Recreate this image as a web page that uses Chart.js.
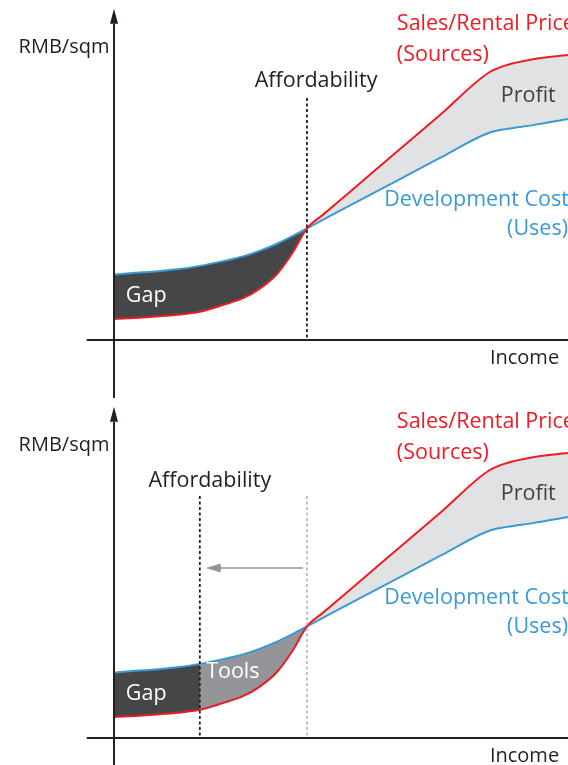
<!DOCTYPE html>
<html>
<head>
<meta charset="utf-8">
<script src="https://cdn.jsdelivr.net/npm/chart.js@4"></script>
<style>
    body { margin: 0; background: #ffffff; }
    canvas { display: block; }
</style>
</head>
<body>
<canvas id="chart-top" width="568" height="398"></canvas>
<canvas id="chart-bottom" width="568" height="367"></canvas>
<script>
/**
 * Data (income on x, RMB/sqm on y, arbitrary units)
 */
const incomeX = [0, 6.4, 13.9, 18.9, 24, 28.4, 32.2, 35.9, 39.4, 42.5, 46, 52, 63, 72, 82.5, 86.6, 92.3, 100];
const priceY  = [6.2, 6.6, 7.4, 8.3, 10.3, 12.3, 15.2, 19.4, 25.8, 32.8, 36.8, 43.6, 56.2, 66.4, 78.6, 80.9, 82.6, 83.8];
const costY   = [19.3, 19.9, 20.8, 21.8, 23.2, 24.6, 26.3, 28.3, 30.6, 32.8, 35.3, 39.6, 47.3, 53.7, 60.9, 62.1, 63.2, 65.0];
const breakEvenIncome = 42.5;
const affordableIncome = 18.9;

const RED = "#ed1c24";
const BLUE = "#3a9ad4";
const DARK = "#454648";
const MID = "#939598";
const LIGHT = "#e1e2e3";
const INK = "#231f20";
const FONT = '21.5px "Open Sans"';

function toPoints(xs, ys) {
    return xs.map((x, i) => ({ x: x, y: ys[i] }));
}

function lineDataset(label, points, color, fill) {
    return {
        label: label,
        data: points,
        borderColor: color,
        borderWidth: color ? 2 : 0,
        pointRadius: 0,
        fill: fill,
        cubicInterpolationMode: 'monotone'
    };
}

/**
 * Decorations: axes, affordability lines, labels
 */
function px(chart, x) { return chart.scales.x.getPixelForValue(x); }
function py(chart, y) { return chart.scales.y.getPixelForValue(y); }

function text(ctx, str, x, y, color, align) {
    ctx.fillStyle = color;
    ctx.textAlign = align || "left";
    ctx.fillText(str, x, y);
}

function dashedLine(ctx, x, y0, y1, color, width) {
    ctx.save();
    ctx.strokeStyle = color;
    ctx.lineWidth = width;
    ctx.setLineDash([3, 2.5]);
    ctx.beginPath();
    ctx.moveTo(x, y0);
    ctx.lineTo(x, y1);
    ctx.stroke();
    ctx.restore();
}

function decorations(bottomPanel) {
    return {
        id: 'decorations',
        afterDraw(chart) {
            const ctx = chart.ctx;
            const x0 = px(chart, 0), y0 = py(chart, 0);
            ctx.save();
            ctx.font = FONT;
            ctx.textBaseline = "alphabetic";

            // axes
            ctx.strokeStyle = INK;
            ctx.lineWidth = 2;
            ctx.beginPath();
            ctx.moveTo(px(chart, -6), y0);
            ctx.lineTo(chart.width, y0);
            ctx.moveTo(x0, chart.height);
            ctx.lineTo(x0, py(chart, 93));
            ctx.stroke();
            ctx.fillStyle = INK;
            ctx.beginPath();
            ctx.moveTo(x0, py(chart, 97.4));
            ctx.lineTo(x0 - 4, py(chart, 93));
            ctx.lineTo(x0 + 4, py(chart, 93));
            ctx.closePath();
            ctx.fill();

            // affordability lines
            const lineTop = py(chart, 71.2);
            if (bottomPanel) {
                dashedLine(ctx, px(chart, affordableIncome), lineTop, y0, INK, 1.8);
                dashedLine(ctx, px(chart, breakEvenIncome), lineTop, y0, "#a7a9ac", 1.4);
                // shift arrow
                const ay = py(chart, 50);
                const tip = px(chart, affordableIncome) + 6;
                ctx.strokeStyle = MID;
                ctx.lineWidth = 1.6;
                ctx.beginPath();
                ctx.moveTo(px(chart, breakEvenIncome) - 4, ay);
                ctx.lineTo(tip + 10, ay);
                ctx.stroke();
                ctx.fillStyle = MID;
                ctx.beginPath();
                ctx.moveTo(tip, ay);
                ctx.lineTo(tip + 15, ay - 4.5);
                ctx.lineTo(tip + 15, ay + 4.5);
                ctx.closePath();
                ctx.fill();
                text(ctx, "Affordability", px(chart, 21.1), py(chart, 73.8), INK, "center");
                text(ctx, "Tools", px(chart, 20.3), py(chart, 17.6), "#ffffff");
            } else {
                dashedLine(ctx, px(chart, breakEvenIncome), lineTop, y0, INK, 1.8);
                text(ctx, "Affordability", px(chart, 44.5), py(chart, 74.4), INK, "center");
            }

            // labels
            text(ctx, "Sales/Rental Price", px(chart, 62.3), py(chart, 91.2), RED);
            text(ctx, "(Sources)", px(chart, 62.3), py(chart, 82.2), RED);
            text(ctx, "Profit", px(chart, 85.2), py(chart, 70), "#414042");
            text(ctx, "Development Cost", px(chart, 59.5), py(chart, 39.4), BLUE);
            text(ctx, "(Uses)", px(chart, 100), py(chart, 30.9), BLUE, "right");
            text(ctx, "Gap", px(chart, 2.6), py(chart, 11.2), "#ffffff");
            ctx.font = '20px "Open Sans"';
            text(ctx, "Income", px(chart, 82.8), py(chart, -7.1), INK);
            text(ctx, "RMB/sqm", px(chart, -1), py(chart, 84.4), INK, "right");
            ctx.restore();
        }
    };
}

function buildChart(canvasId, datasets, bottomPad, bottomPanel) {
    return new Chart(document.getElementById(canvasId), {
        type: 'line',
        data: { datasets: datasets },
        options: {
            animation: false,
            responsive: false,
            parsing: false,
            layout: { padding: { left: 114, right: 0, top: 0, bottom: bottomPad } },
            scales: {
                x: { type: 'linear', min: 0, max: 100, display: false },
                y: { type: 'linear', min: 0, max: 100, display: false }
            },
            plugins: {
                legend: { display: false },
                tooltip: { enabled: false },
                filler: { drawTime: 'beforeDatasetsDraw' }
            }
        },
        plugins: [decorations(bottomPanel)]
    });
}

/**
 * Top: original affordability
 */
buildChart('chart-top', [
    lineDataset("Sales/Rental Price", toPoints(incomeX, priceY), RED,
        { target: 1, above: LIGHT, below: DARK }),
    lineDataset("Development Cost", toPoints(incomeX, costY), BLUE, false)
], 58, false);

/**
 * Bottom: tools shift affordability
 */
const gapX = incomeX.filter(x => x <= affordableIncome);
buildChart('chart-bottom', [
    lineDataset("Gap", toPoints(gapX, priceY), null,
        { target: 2, above: DARK, below: DARK }),
    lineDataset("Sales/Rental Price", toPoints(incomeX, priceY), RED,
        { target: 2, above: LIGHT, below: MID }),
    lineDataset("Development Cost", toPoints(incomeX, costY), BLUE, false)
], 27, true);
</script>
</body>
</html>
